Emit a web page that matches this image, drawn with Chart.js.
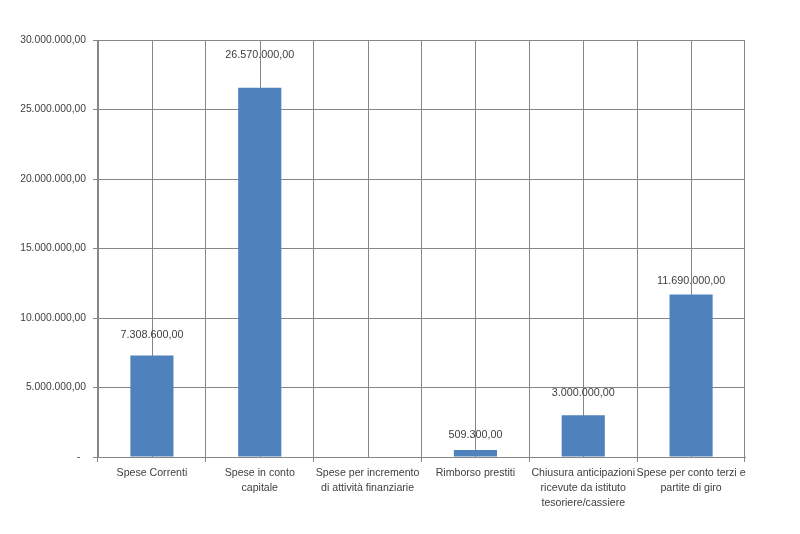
<!DOCTYPE html>
<html>
<head>
<meta charset="utf-8">
<script src="https://cdn.jsdelivr.net/npm/chart.js@4"></script>
<style>
  html, body { margin: 0; padding: 0; background: #fff; }
  #wrap { width: 800px; height: 534px; }
</style>
</head>
<body>
<div id="wrap"><canvas id="myChart" width="800" height="534"></canvas></div>
<script>
const categories = [
  'Spese Correnti',
  ['Spese in conto', 'capitale'],
  ['Spese per incremento', 'di attività finanziarie'],
  'Rimborso prestiti',
  ['Chiusura anticipazioni', 'ricevute da istituto', 'tesoriere/cassiere'],
  ['Spese per conto terzi e', 'partite di giro'],
];
const spese = [7308600, 26570000, null, 509300, 3000000, 11690000];
const yTicks = [0, 5000000, 10000000, 15000000, 20000000, 25000000, 30000000];

// distance of each label above its bar (as in the original, labels were moved by hand)
const labelGap = [20, 33, 0, 15, 22, 13];

function formatIt(v) {
  let parts = Math.abs(v).toFixed(2).split('.');
  let int = parts[0].replace(/\B(?=(\d{3})+(?!\d))/g, '.');
  return int + ',' + parts[1];
}

const centerLines = {
  id: 'centerLines',
  beforeDatasetsDraw(chart) {
    const ctx = chart.ctx;
    const x = chart.scales.x;
    const area = chart.chartArea;
    ctx.save();
    ctx.strokeStyle = '#868686';
    ctx.lineWidth = 1;
    categories.forEach((c, i) => {
      let px = Math.round(x.getPixelForTick(i)) + 0.5;
      ctx.beginPath();
      ctx.moveTo(px, area.top);
      ctx.lineTo(px, area.bottom);
      ctx.stroke();
    });
    ctx.restore();
  },
};

const barLabels = {
  id: 'barLabels',
  afterDatasetsDraw(chart) {
    const ctx = chart.ctx;
    const meta = chart.getDatasetMeta(0);
    ctx.save();
    ctx.font = '10.8px "Liberation Sans", Arial, sans-serif';
    ctx.fillStyle = '#404040';
    ctx.textAlign = 'center';
    ctx.textBaseline = 'middle';
    meta.data.forEach((bar, i) => {
      if (spese[i] == null) return;
      ctx.fillText(formatIt(spese[i]), bar.x, bar.y - labelGap[i]);
    });
    ctx.restore();
  },
};

new Chart(document.getElementById('myChart'), {
  type: 'bar',
  data: {
    labels: categories,
    datasets: [
      {
        label: 'Spese',
        data: spese,
        backgroundColor: '#4f81bd',
        borderWidth: 0,
        categoryPercentage: 1,
        barPercentage: 0.4,
      },
    ],
  },
  options: {
    responsive: false,
    animation: false,
    layout: { padding: { top: 40, right: 55, left: 0, bottom: 0 } },
    scales: {
      x: {
        offset: true,
        grid: {
          offset: true,
          color: '#868686',
          tickLength: 5,
        },
        border: { color: '#868686' },
        ticks: {
          color: '#404040',
          padding: 3,
          maxRotation: 0,
          autoSkip: false,
          font: { family: '"Liberation Sans", Arial, sans-serif', size: 10.6, lineHeight: 1.45 },
        },
        afterFit(scale) {
          scale.height = 77;
        },
      },
      y: {
        min: 0,
        max: 30000000,
        afterBuildTicks(scale) {
          scale.ticks = yTicks.map((v) => ({ value: v }));
        },
        grid: {
          color: '#868686',
          tickLength: 5,
        },
        border: { color: '#868686' },
        ticks: {
          color: '#404040',
          padding: 7,
          font: { family: '"Liberation Sans", Arial, sans-serif', size: 10.3 },
          callback: (v) => (v === 0 ? '-  ' : formatIt(v)),
        },
        afterFit(scale) {
          scale.width = 98;
        },
      },
    },
    plugins: {
      legend: { display: false },
      tooltip: { enabled: false },
    },
  },
  plugins: [centerLines, barLabels],
});
</script>
</body>
</html>
